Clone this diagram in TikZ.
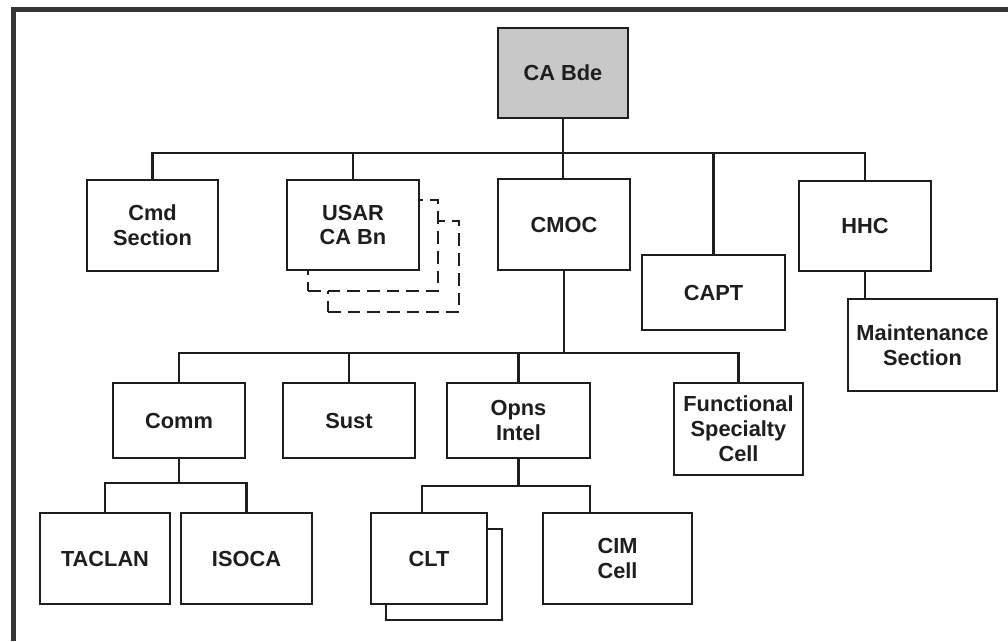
\documentclass[tikz,border=0pt]{standalone}
\usepackage{fontspec}
\setmainfont{Liberation Sans}
\usepackage{xcolor}
\definecolor{ink}{RGB}{30,30,30}
\definecolor{bdegray}{RGB}{200,200,200}
\usetikzlibrary{calc}
\tikzset{
  unit/.style={draw=ink, line width=2.1pt, fill=white, align=center, inner sep=0pt,
    text=ink, font=\fontsize{15.5}{17.7}\selectfont\bfseries},
  sz/.style 2 args={minimum width=#1*0.025cm, minimum height=#2*0.025cm},
  link/.style={draw=ink, line width=2.1pt},
  ghost/.style={draw=ink, line width=2.1pt, fill=white, dash pattern=on 9pt off 5pt},
}
\newcommand{\ver}[2]{\coordinate (#1) at (#2);}

\begin{document}
\begin{tikzpicture}[x=0.025cm, y=-0.025cm]
    \useasboundingbox (0,0) rectangle (1008,641);
      \ver{fl}{13.5,641};
      \ver{ft}{13.5,9.5};
      \ver{fr}{1008,9.5};
      \draw[draw=ink!90, line width=3pt] (fl) -- (ft) -- (fr);

      \ver{b1}{0,153};
      \ver{b2}{0,353};
      \ver{b3}{0,483};
      \ver{b4}{0,486};
      \ver{clttap}{422,486};
      \ver{cimtap}{590,486};

      % brigade and first row
      \node[unit, sz={130}{90}, fill=bdegray] (bde) at (563,73) {CA Bde};
      \node[unit, sz={131}{91}] (cmd) at (152.5,225.5) {Cmd\\Section};
      \node[ghost, sz={131}{91}] (usar2) at (393.5,266.5) {};
      \node[ghost, sz={130}{91}] (usar1) at (373,245.5) {};
      \node[unit, sz={132}{90}] (usar) at (353,225) {USAR\\CA Bn};
      \node[unit, sz={132}{91}] (cmoc) at (564,224.5) {CMOC};
      \node[unit, sz={143}{75}] (capt) at (713.5,292.5) {CAPT};
      \node[unit, sz={132}{90}] (hhc) at (865,226) {HHC};
      \node[unit, sz={149}{92}] (maint) at (922.5,345) {Maintenance\\Section};

      % CMOC row
      \node[unit, sz={132}{75}] (comm) at (179,420.5) {Comm};
      \node[unit, sz={132}{75}] (sust) at (349,420.5) {Sust};
      \node[unit, sz={143}{75}] (opns) at (518.5,420.5) {Opns\\Intel};
      \node[unit, sz={129}{92}] (func) at (738.5,429) {Functional\\Specialty\\Cell};

      % bottom row
      \node[unit, sz={130}{91}] (taclan) at (105,558.5) {TACLAN};
      \node[unit, sz={131}{91}] (isoca) at (246.5,558.5) {ISOCA};
      \node[unit, sz={116}{91}] (clt2) at (444,574.5) {};
      \node[unit, sz={116}{91}] (clt) at (429,558.5) {CLT};
      \node[unit, sz={149}{91}] (cim) at (617.5,558.5) {CIM\\Cell};

      \draw[link] (bde.south) -- (bde.south |- cmoc.north);
      \draw[link] (cmd.north) -- (cmd.north |- b1) -- (hhc.north |- b1) -- (hhc.north);
      \foreach \u in {usar,capt}
        \draw[link] (\u.north) -- (\u.north |- b1);
      \draw[link] (hhc.south) -- (hhc.south |- maint.north);

      \draw[link] (cmoc.south) -- (cmoc.south |- b2);
      \draw[link] (comm.north) -- (comm.north |- b2) -- (func.north |- b2) -- (func.north);
      \foreach \u in {sust,opns}
        \draw[link] (\u.north) -- (\u.north |- b2);

      \draw[link] (comm.south) -- (comm.south |- b3);
      \draw[link] (taclan.north) |- (isoca.north |- b3) -- (isoca.north);
      \draw[link] (opns.south) -- (opns.south |- b4);
      \draw[link] (clttap |- clt.north) -- (clttap) -- (cimtap) -- (cimtap |- cim.north);
  \end{tikzpicture}
\end{document}
